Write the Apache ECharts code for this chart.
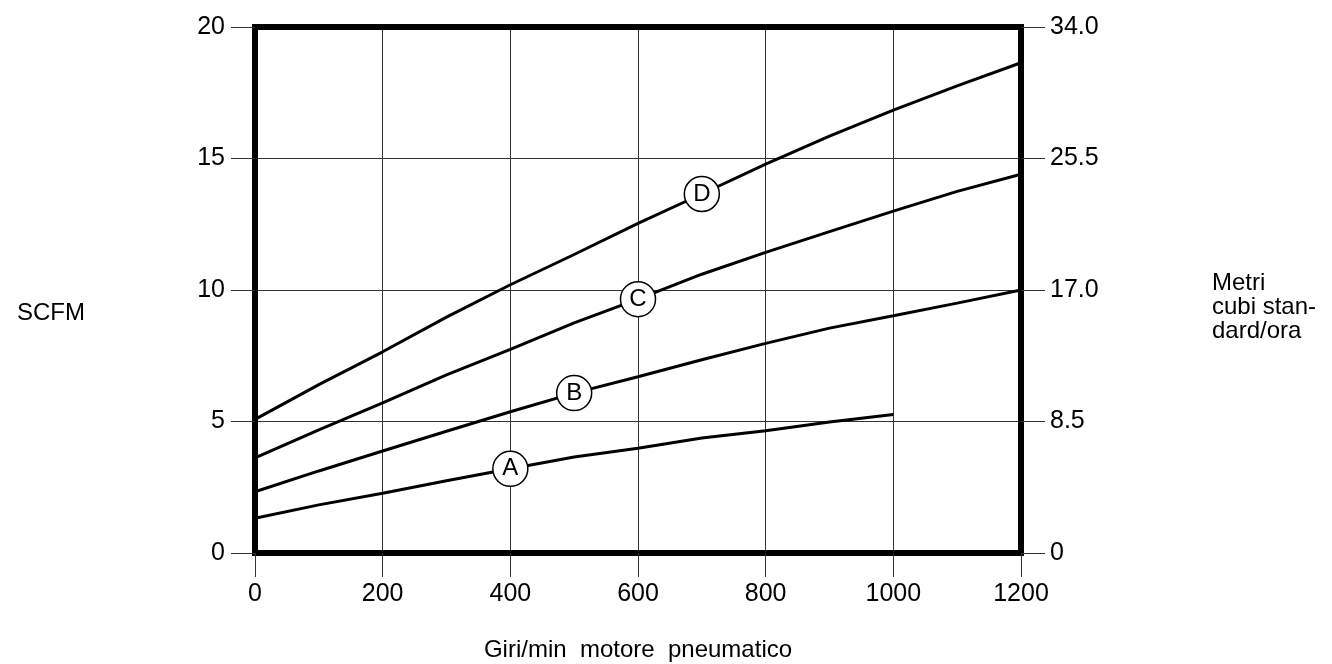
<!DOCTYPE html>
<html>
<head>
<meta charset="utf-8">
<script src="https://cdn.jsdelivr.net/npm/echarts@6/dist/echarts.min.js"></script>
<style>
  html, body { margin: 0; padding: 0; background: #fff; }
  #chart { width: 1332px; height: 664px; }
</style>
</head>
<body>
<div id="chart"></div>
<script>
var rpm = [0, 100, 200, 300, 400, 500, 600, 700, 800, 900, 1000, 1100, 1200];
var curveA = [1.32, 1.83, 2.27, 2.75, 3.2, 3.65, 3.98, 4.37, 4.65, 4.98, 5.27];
var curveB = [2.33, 3.12, 3.88, 4.63, 5.37, 6.08, 6.70, 7.35, 7.97, 8.55, 9.02, 9.5, 10.0];
var curveC = [3.62, 4.68, 5.71, 6.77, 7.74, 8.75, 9.65, 10.6, 11.43, 12.22, 13.0, 13.75, 14.4];
var curveD = [5.08, 6.4, 7.65, 8.97, 10.2, 11.35, 12.53, 13.65, 14.79, 15.85, 16.84, 17.76, 18.64];
var curveNames = ['A', 'B', 'C', 'D'];
var labelRpm = [400, 500, 600, 700];
var rightTicks = ['0', '8.5', '17.0', '25.5', '34.0'];

var font = 'Liberation Sans, Arial, sans-serif';
var frame = { show: true, onZero: false, lineStyle: { color: '#000', width: 6 } };
var tick = { show: true, length: 24, lineStyle: { color: '#333', width: 1 } };

function pairs(vals) {
  return vals.map(function (v, i) { return [rpm[i], v]; });
}

function lineSeries(name, vals) {
  return {
    name: name,
    type: 'line',
    data: pairs(vals),
    symbol: 'none',
    smooth: false,
    lineStyle: { color: '#000', width: 3 },
    z: 3
  };
}

var curves = [curveA, curveB, curveC, curveD];
var labelPoints = curveNames.map(function (n, i) {
  var idx = rpm.indexOf(labelRpm[i]);
  return { name: n, value: [labelRpm[i], curves[i][idx]] };
});

var myChart = echarts.init(document.getElementById('chart'));
var option = {
  animation: false,
  textStyle: { fontFamily: font },
  grid: {
    left: 255,
    right: 311,
    top: 27,
    bottom: 111,
    outerBoundsMode: 'none',
    show: true,
    borderWidth: 6,
    borderColor: '#000',
    backgroundColor: 'transparent'
  },
  // side titles, placed as plain text beside the axes
  graphic: [{
    type: 'text',
    left: 17,
    top: 301,
    style: { text: 'SCFM', fill: '#000', font: '24px ' + font }
  }, {
    type: 'text',
    left: 1212,
    top: 271,
    style: { text: 'Metri\ncubi stan-\ndard/ora', fill: '#000', font: '24px ' + font, lineHeight: 24 }
  }],
  xAxis: [{
    type: 'value',
    min: 0,
    max: 1200,
    interval: 200,
    position: 'bottom',
    name: 'Giri/min  motore  pneumatico',
    nameLocation: 'middle',
    nameGap: 85,
    nameTextStyle: { color: '#000', fontSize: 24, fontFamily: font },
    axisLine: frame,
    axisTick: tick,
    axisLabel: {
      color: '#000', fontSize: 25, margin: 29, fontFamily: font,
      formatter: function (v) { return String(v); }
    },
    splitLine: { show: true, lineStyle: { color: '#333', width: 1 } }
  }, {
    type: 'value',
    min: 0,
    max: 1200,
    position: 'top',
    axisLine: frame,
    axisTick: { show: false },
    axisLabel: { show: false },
    splitLine: { show: false }
  }],
  yAxis: [{
    type: 'value',
    min: 0,
    max: 20,
    interval: 5,
    position: 'left',
    axisLine: frame,
    axisTick: tick,
    axisLabel: { color: '#000', fontSize: 25, margin: 30, fontFamily: font },
    splitLine: { show: true, lineStyle: { color: '#333', width: 1 } }
  }, {
    type: 'value',
    min: 0,
    max: 34,
    interval: 8.5,
    position: 'right',
    axisLine: frame,
    axisTick: tick,
    axisLabel: {
      color: '#000', fontSize: 25, margin: 29, fontFamily: font,
      formatter: function (v, i) { return rightTicks[i]; }
    },
    splitLine: { show: false }
  }],
  series: [
    lineSeries('A', curveA),
    lineSeries('B', curveB),
    lineSeries('C', curveC),
    lineSeries('D', curveD),
    {
      type: 'scatter',
      data: labelPoints,
      symbol: 'circle',
      symbolSize: 35,
      itemStyle: { color: '#fff', borderColor: '#000', borderWidth: 1.5, opacity: 1 },
      label: {
        show: true,
        position: 'inside',
        formatter: '{b}',
        color: '#000',
        fontSize: 24,
        fontFamily: font
      },
      z: 5
    }
  ]
};
myChart.setOption(option, true);
</script>
</body>
</html>
